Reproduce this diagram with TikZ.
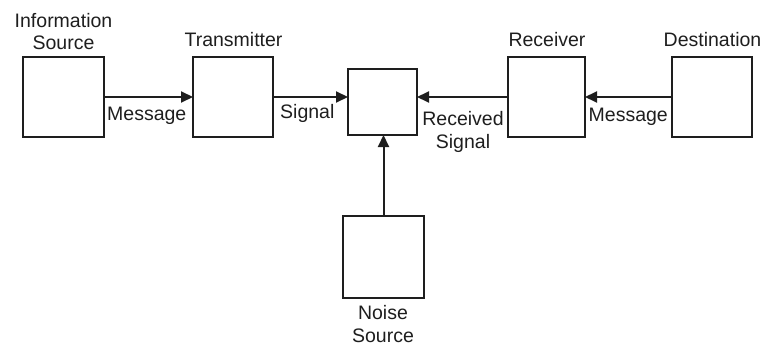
\documentclass[tikz,border=0pt]{standalone}
\usepackage{fontspec}
\setmainfont{Liberation Sans}
\usetikzlibrary{arrows.meta}
\begin{document}
\begin{tikzpicture}[x=1pt,y=-1pt,
  blk/.style={draw=ink,line width=2pt,inner sep=0pt,outer sep=0pt},
  arr/.style={draw=ink,line width=2pt,-{Triangle[length=12pt,width=11pt]}},
  lbl/.style={text=ink,inner sep=0pt,font=\fontsize{19.5}{22.5}\selectfont,align=center}]
\definecolor{ink}{HTML}{1E1E1E}
\useasboundingbox (0,0) rectangle (765,345);
\node[blk,minimum width=81pt,minimum height=80pt] (info) at (63.5,97) {};
\node[blk,minimum width=80pt,minimum height=80pt] (trans) at (233,97) {};
\node[blk,minimum width=69pt,minimum height=66pt] (chan) at (382.5,102) {};
\node[blk,minimum width=77pt,minimum height=80pt] (recv) at (546.5,97) {};
\node[blk,minimum width=80pt,minimum height=80pt] (dest) at (712,97) {};
\node[blk,minimum width=81pt,minimum height=82pt] (noise) at (383.5,257) {};
\draw[arr] (info.east) -- (trans.west);
\draw[arr] (trans.east) -- (trans.east -| chan.west);
\draw[arr] (recv.west) -- (recv.west -| chan.east);
\draw[arr] (dest.west) -- (recv.east);
\draw[arr] (noise.north) -- (noise.north |- chan.south);
\node[lbl] (linfo) at (63.5,31.5) {Information\\Source};
\node[lbl] (ltrans) at (233.5,40) {Transmitter};
\node[lbl] (lrecv) at (547,40) {Receiver};
\node[lbl] (ldest) at (712.5,40) {Destination};
\node[lbl] (lnoise) at (383,324) {Noise\\Source};
\node[lbl,anchor=west] (lmsg1) at (107,115.5) {Message};
\node[lbl,anchor=west] (lsig) at (280,113) {Signal};
\node[lbl] (lrsig) at (463,132) {Received\\Signal};
\node[lbl,anchor=east] (lmsg2) at (668,117) {Message};
\end{tikzpicture}
\end{document}
